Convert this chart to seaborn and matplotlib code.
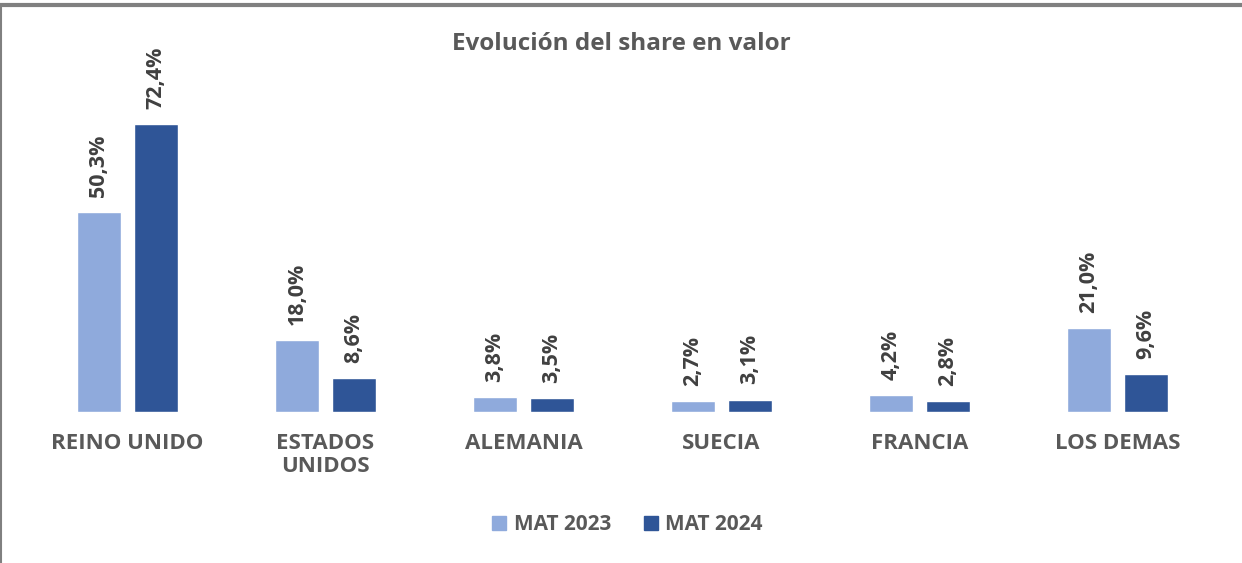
import pandas as pd
import matplotlib.pyplot as plt
import seaborn as sns
from matplotlib.lines import Line2D

# data
categories = ["REINO UNIDO", "ESTADOS\nUNIDOS", "ALEMANIA", "SUECIA", "FRANCIA", "LOS DEMAS"]
mat_2023 = [50.3, 18.0, 3.8, 2.7, 4.2, 21.0]
mat_2024 = [72.4, 8.6, 3.5, 3.1, 2.8, 9.6]
series = ["MAT 2023", "MAT 2024"]
colors = ["#8FAADC", "#2F5597"]

df = pd.DataFrame({
    "pais": categories * 2,
    "serie": [series[0]] * len(categories) + [series[1]] * len(categories),
    "share": mat_2023 + mat_2024,
})

sns.set_style("white")
plt.rcParams["font.family"] = ["Open Sans", "DejaVu Sans"]

fig = plt.figure(figsize=(12.42, 5.63), dpi=100)
ax = fig.add_axes([28.5 / 1242, (563 - 412) / 563, (1216.5 - 28.5) / 1242, (412 - 80) / 563])

sns.barplot(
    data=df, x="pais", y="share", hue="serie",
    palette=colors, width=0.576, gap=0.228,
    order=categories, hue_order=series, ax=ax,
    legend=False, saturation=1,
)

ax.set_ylim(0, (412 - 80) / 3.978)
ax.set_xlim(-0.5, len(categories) - 0.5)

for cont in ax.containers:
    ax.bar_label(
        cont, labels=[f"{v:.1f}%".replace(".", ",") for v in cont.datavalues],
        rotation=90, padding=11, fontsize=15.5, fontweight="bold", color="#404040",
    )

ax.set_xlabel("")
ax.set_ylabel("")
ax.set_yticks([])
ax.tick_params(axis="x", length=0, pad=15, labelsize=16, labelcolor="#595959")
for lbl in ax.get_xticklabels():
    lbl.set_fontweight("bold")
    lbl.set_linespacing(1.15)
    lbl.set_verticalalignment("top")
for s in ax.spines.values():
    s.set_visible(False)

fig.text(0.5, 1 - 44 / 563, "Evolución del share en valor", ha="center", va="center",
         fontsize=17.5, fontweight="bold", color="#595959")

handles = [Line2D([], [], marker="s", linestyle="none", markersize=10.5,
                  markerfacecolor=c, markeredgecolor=c) for c in colors]
fig.legend(handles, series, loc="center", bbox_to_anchor=(0.503, 1 - 525 / 563), ncol=2,
           frameon=False, handletextpad=0.1, columnspacing=1.3, handlelength=1.2,
           prop={"weight": "bold", "size": 15}, labelcolor="#595959")

# frame lines at top and left edge
fig.add_artist(Line2D([0, 1], [1 - 5 / 563, 1 - 5 / 563], color="#808080", lw=3,
                      transform=fig.transFigure))
fig.add_artist(Line2D([0.8 / 1242, 0.8 / 1242], [0, 1 - 5 / 563], color="#808080", lw=1.5,
                      transform=fig.transFigure))

fig.savefig("out.png", dpi=100)
